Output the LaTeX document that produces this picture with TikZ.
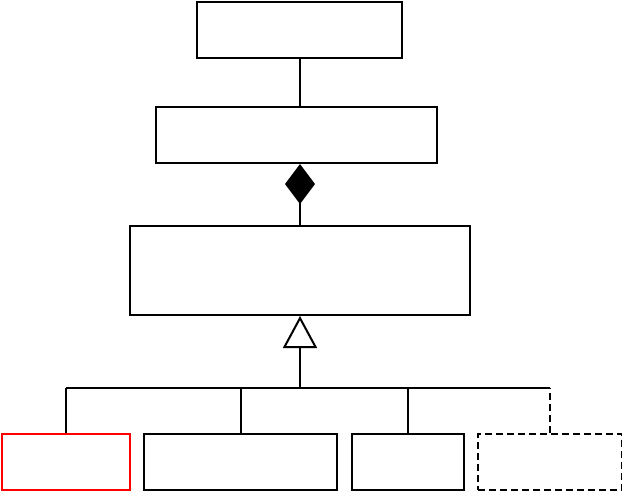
\documentclass[tikz,border=0pt]{standalone}
\usetikzlibrary{arrows.meta}
\begin{document}
\begin{tikzpicture}[x=1pt,y=-1pt,line width=2pt,
  box/.style={draw=black,line width=2pt,inner sep=0pt,anchor=north west},
  redbox/.style={box,draw=red},
  dashbox/.style={box,dash pattern=on 7pt off 4pt},
  link/.style={draw=black,line width=2pt},
  dashlink/.style={link,dash pattern=on 7pt off 4pt}]
\useasboundingbox (0,0) rectangle (622,491);
\node[box,minimum width=205pt,minimum height=56pt] (a) at (196,1) {};
\node[box,minimum width=281pt,minimum height=56pt] (b) at (155,106) {};
\node[box,minimum width=340pt,minimum height=89pt] (c) at (129,225) {};
\node[redbox,minimum width=128pt,minimum height=56pt] (r) at (1,433) {};
\node[box,minimum width=193pt,minimum height=56pt] (e) at (143,433) {};
\node[box,minimum width=112pt,minimum height=56pt] (f) at (351,433) {};
\node[dashbox,minimum width=144pt,minimum height=56pt] (d) at (477,433) {};
\coordinate (bar) at (300,387.5);
\draw[link] (a.south) -- (a.south |- b.north);
\draw[link,-{Diamond[length=40pt,width=30pt]}] (c.north) -- (c.north |- b.south);
\draw[link,{Triangle[open,length=32pt,width=34pt]}-] (c.south) -- (c.south |- bar);
\draw[link] (r.north |- bar) -- (d.north |- bar);
\draw[link] (r.north) -- (r.north |- bar);
\draw[link] (e.north) -- (e.north |- bar);
\draw[link] (f.north) -- (f.north |- bar);
\draw[dashlink] (d.north) -- (d.north |- bar);
\end{tikzpicture}
\end{document}
